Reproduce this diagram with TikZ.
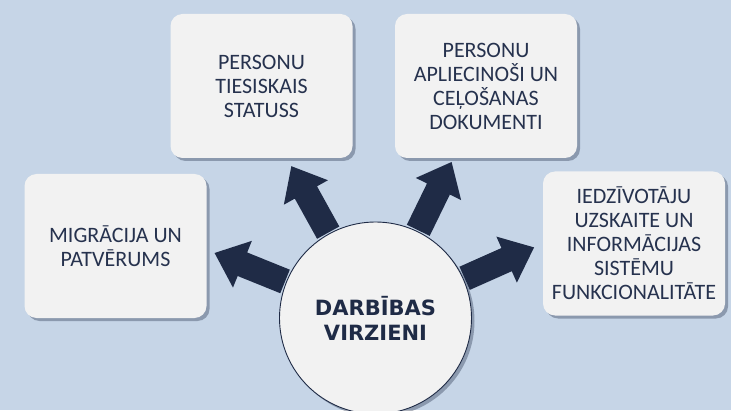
\documentclass[tikz,border=0pt]{standalone}
\usepackage{fontspec}
\setmainfont{Carlito}
\newfontfamily\verd{DejaVu Sans}
\usetikzlibrary{shapes.arrows,shadows,positioning,calc}
\definecolor{bgblue}{RGB}{198,213,231}
\definecolor{boxgray}{RGB}{242,242,242}
\definecolor{navy}{RGB}{31,43,70}
\definecolor{txtnavy}{RGB}{38,50,78}

\tikzset{
  areabox/.style={rectangle, rounded corners=12pt, fill=boxgray, minimum width=182pt, minimum height=144pt,
    align=center, font=\fontsize{22}{24}\selectfont, text=txtnavy,
    drop shadow={shadow xshift=3pt, shadow yshift=-3pt, fill=navy, opacity=0.35}},
  blockarrow/.style={single arrow, fill=navy, draw=none, inner xsep=0pt, inner ysep=12.5pt, minimum height=76pt,
    single arrow head extend=12.5pt, single arrow tip angle=80},
  hub/.style={circle, minimum size=192pt, fill=boxgray, draw=navy, line width=0.9pt, align=center,
    font=\verd\bfseries\fontsize{21}{25}\selectfont, text=navy,
    drop shadow={shadow xshift=3pt, shadow yshift=-3pt, fill=navy, opacity=0.35}}
}

\begin{document}
\begin{tikzpicture}[line cap=round,line join=round,x=1pt,y=1pt]
\fill[bgblue] (0,0) rectangle (731,410);
\useasboundingbox (0,0) rectangle (731,410);
%
\node[areabox] (mig) at (115.5,164) {MIGRĀCIJA UN\\PATVĒRUMS};
\node[areabox] (stat) at (261.5,324) {PERSONU\\TIESISKAIS\\STATUSS};
\node[areabox] (dok) at (486,324) {PERSONU\\APLIECINOŠI UN\\CEĻOŠANAS\\DOKUMENTI};
\node[areabox] (iedz) at (634,166.5) {IEDZĪVOTĀJU\\UZSKAITE UN\\INFORMĀCIJAS\\SISTĒMU\\FUNKCIONALITĀTE};
%
\coordinate (c) at (375.5,92);
\foreach \a/\n in {158/arrmig,119/arrstat,64/arrdok,24/arriedz}
  \node[blockarrow, rotate=\a] (\n) at ($(c)+(\a:128)$) {};
%
\node[hub] (ctr) at (c) {DARBĪBAS\\VIRZIENI};
\end{tikzpicture}
\end{document}
